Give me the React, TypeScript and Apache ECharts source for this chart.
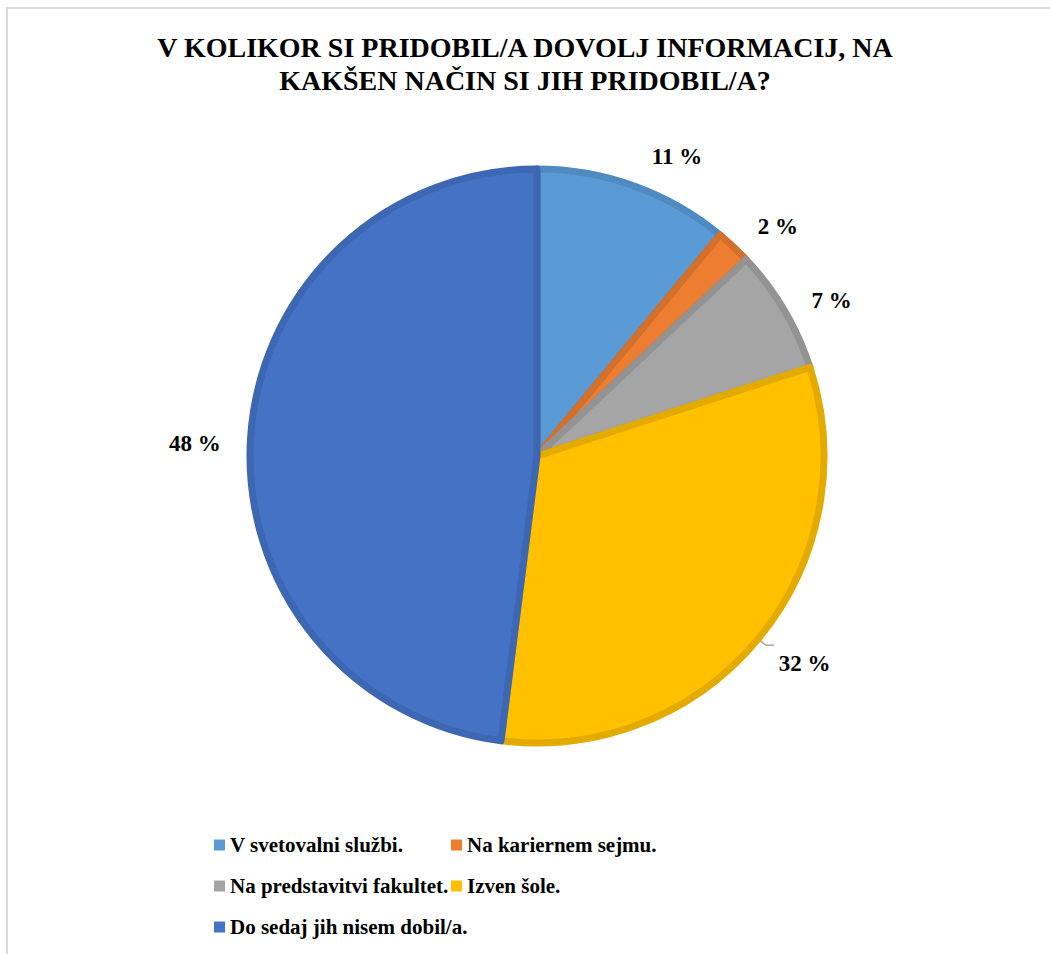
import React, { useEffect, useRef } from "react";
import * as echarts from "echarts";

const titleLines = [
  "V KOLIKOR SI PRIDOBIL/A DOVOLJ INFORMACIJ, NA",
  "KAKŠEN NAČIN SI JIH PRIDOBIL/A?",
];
const categories = [
  "V svetovalni službi.",
  "Na kariernem sejmu.",
  "Na predstavitvi fakultet.",
  "Izven šole.",
  "Do sedaj jih nisem dobil/a.",
];
const values = [11, 2, 7, 32, 48];
const fillColors = ["#5B9BD5", "#ED7D31", "#A5A5A5", "#FFC000", "#4472C4"];
const borderColors = ["#4F8AC1", "#D2702C", "#939393", "#E3AB00", "#3D67B2"];
// label leader tuning (length, length2, distance, vertical shift, line shown)
const labelTweaks = [
  { length: 31, length2: 7, dist: 0, dy: 0, line: false },
  { length: 28, length2: 5, dist: 0, dy: 0, line: false },
  { length: 19, length2: 11, dist: 0, dy: 0, line: false },
  { length: 10, length2: 8, dist: 5, dy: 18, line: true },
  { length: 30, length2: 0, dist: 0, dy: 7, line: false },
];
const legendCol1 = [categories[0], categories[2], categories[4]];
const legendCol2 = [categories[1], categories[3]];

const SERIF = "'Liberation Serif', 'Times New Roman', serif";

export default function App() {
  const ref = useRef<HTMLDivElement>(null);
  useEffect(() => {
    if (!ref.current) return;
    const chart = echarts.init(ref.current, undefined, { renderer: "svg" });
    const data = categories.map((name, i) => {
      const t = labelTweaks[i];
      return {
        name,
        value: values[i],
        itemStyle: { color: fillColors[i], borderColor: borderColors[i] },
        label: { distanceToLabelLine: t.dist },
        labelLine: { show: t.line, length: t.length, length2: t.length2 },
      };
    });
    const legendCommon = {
      orient: "vertical" as const,
      top: 828,
      itemGap: 17,
      itemWidth: 11,
      itemHeight: 11,
      icon: "rect",
      itemStyle: { borderWidth: 0 },
      textStyle: {
        fontFamily: SERIF,
        fontSize: 21,
        fontWeight: "bold" as const,
        color: "#000",
        lineHeight: 24,
      },
      selectedMode: false,
    };
    chart.setOption({
      animation: false,
      backgroundColor: "#ffffff",
      title: {
        text: titleLines.join("\n"),
        left: "center",
        top: 31,
        padding: 0,
        textStyle: {
          fontFamily: SERIF,
          fontSize: 28,
          fontWeight: "bold",
          color: "#000",
          lineHeight: 33,
        },
      },
      legend: [
        { ...legendCommon, left: 209, data: legendCol1 },
        { ...legendCommon, left: 446, data: legendCol2 },
      ],
      graphic: [
        {
          type: "rect",
          silent: true,
          shape: { x: 7, y: 8, width: 1200, height: 1200 },
          style: { fill: "none", stroke: "#D9D9D9", lineWidth: 2 },
        },
      ],
      series: [
        {
          type: "pie",
          center: [537, 456],
          radius: 287,
          startAngle: 90,
          clockwise: true,
          avoidLabelOverlap: false,
          itemStyle: { borderWidth: 7 },
          label: {
            show: true,
            position: "outside",
            formatter: (p: any) => `${p.value} %`,
            fontFamily: SERIF,
            fontSize: 23,
            fontWeight: "bold",
            color: "#000",
          },
          labelLine: {
            lineStyle: { color: "#A6A6A6", width: 1.5 },
            smooth: false,
          },
          labelLayout: (p: any) => ({ dy: labelTweaks[p.dataIndex].dy }),
          emphasis: { disabled: true },
          data,
        },
      ],
    });
    return () => chart.dispose();
  }, []);
  return (
    <div
      ref={ref}
      style={{ position: "absolute", left: 0, top: 0, width: 1050, height: 954 }}
    />
  );
}
